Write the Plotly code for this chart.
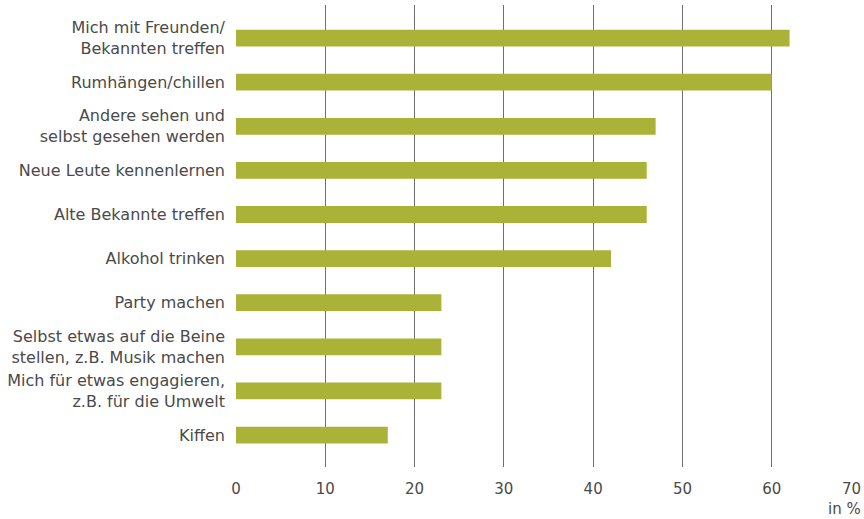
import plotly.graph_objects as go

categories = [
    "Mich mit Freunden/<br>Bekannten treffen",
    "Rumhängen/chillen",
    "Andere sehen und<br>selbst gesehen werden",
    "Neue Leute kennenlernen",
    "Alte Bekannte treffen",
    "Alkohol trinken",
    "Party machen",
    "Selbst etwas auf die Beine<br>stellen, z.B. Musik machen",
    "Mich für etwas engagieren,<br>z.B. für die Umwelt",
    "Kiffen",
]
values = [62, 60, 47, 46, 46, 42, 23, 23, 23, 17]
x_ticks = [0, 10, 20, 30, 40, 50, 60, 70]
x_max = 70
unit_label = "in %"

BAR = "#aab237"
TXT = "#4a4a4a"
GRID = "#6e6e74"
FONT = "DejaVu Sans"
FS = 15

fig = go.Figure(go.Bar(
    x=values, y=categories, orientation="h",
    marker=dict(color=BAR, line=dict(width=0)),
    width=0.38,
    hoverinfo="skip",
))

# last tick label is right-aligned to its gridline (as in reference)
tick_text = [str(v) if v != x_max else "" for v in x_ticks]

fig.update_layout(
    width=864, height=519,
    margin=dict(l=236, r=3, t=5, b=52),
    paper_bgcolor="white", plot_bgcolor="white",
    showlegend=False,
    font=dict(family=FONT, size=FS, color=TXT),
    xaxis=dict(
        range=[0, x_max], tickvals=x_ticks, ticktext=tick_text,
        showgrid=True, gridcolor=GRID, gridwidth=1.3,
        zeroline=False, showline=False, automargin=False,
        ticks="", ticklabelstandoff=11,
        tickfont=dict(family=FONT, size=FS, color=TXT),
    ),
    yaxis=dict(
        range=[9.725, -0.75], showgrid=False, zeroline=False,
        showline=False, ticks="", ticklabelstandoff=10, automargin=False,
        tickfont=dict(family=FONT, size=16, color=TXT),
    ),
    annotations=[
        dict(text=str(x_max), xref="x", yref="paper", x=x_max, y=0,
             xanchor="right", yanchor="top", yshift=-11, xshift=2, showarrow=False,
             font=dict(family=FONT, size=FS, color=TXT)),
        dict(text=unit_label, xref="paper", yref="paper", x=1.0, y=0,
             xanchor="right", yanchor="top", yshift=-31, xshift=2, showarrow=False,
             font=dict(family=FONT, size=FS, color=TXT)),
    ],
)

fig.write_html(
    "out.html",
    config={"displayModeBar": False},
    post_script="document.body.style.margin='0';document.body.style.overflow='hidden';",
)
